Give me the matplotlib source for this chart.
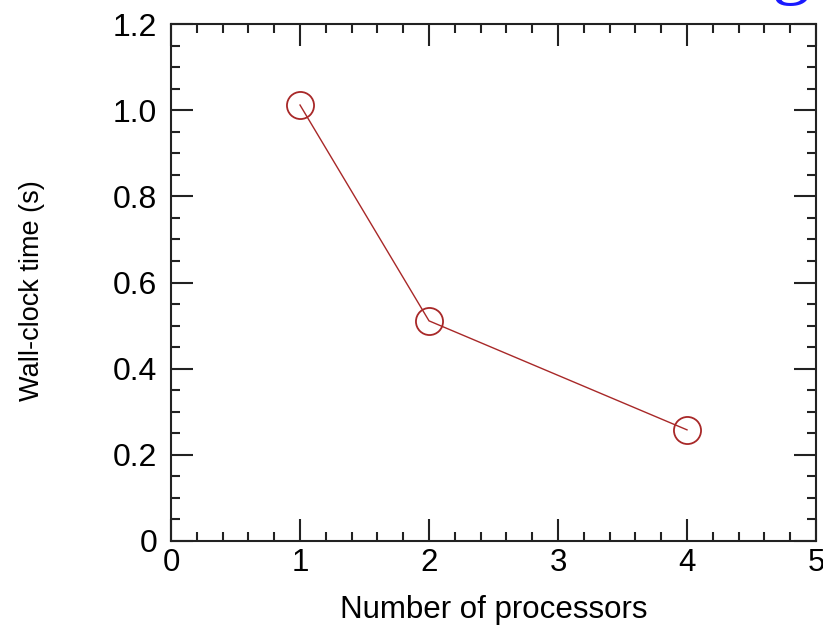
import matplotlib.pyplot as plt
from matplotlib.ticker import MultipleLocator

processors = [1, 2, 4]
wall_time = [1.012, 0.511, 0.258]
y_ticks = [0, 0.2, 0.4, 0.6, 0.8, 1.0, 1.2]
y_tick_labels = ['0', '0.2', '0.4', '0.6', '0.8', '1.0', '1.2']

plt.rcParams['font.family'] = ['Liberation Sans', 'DejaVu Sans']

fig = plt.figure(figsize=(8.23, 6.34), dpi=100)
ax = fig.add_axes([0.2078, 0.1467, 0.7837, 0.8154])

ax.plot(processors, wall_time, '-', color='#a82828', lw=1.0,
        marker='o', ms=19.5, mfc='none', mec='#a82828', mew=1.3)

ax.set_xlim(0, 5)
ax.set_ylim(0, 1.2)
ax.xaxis.set_major_locator(MultipleLocator(1))
ax.xaxis.set_minor_locator(MultipleLocator(0.2))
ax.yaxis.set_minor_locator(MultipleLocator(0.05))
ax.set_yticks(y_ticks)
ax.set_yticklabels(y_tick_labels)

ax.tick_params(which='both', direction='in', top=True, right=True,
               color='#222222', width=1.5)
ax.tick_params(which='major', length=16, labelsize=23)
ax.tick_params(which='minor', length=6.5)
ax.tick_params(axis='x', which='major', pad=5, labelsize=22.5)
ax.tick_params(axis='y', which='major', pad=10)
for s in ax.spines.values():
    s.set_linewidth(1.5)
    s.set_color('#222222')

ax.set_xlabel('Number of processors', fontsize=22.5, labelpad=12)
ax.set_ylabel('Wall-clock time (s)', fontsize=19.5)
ax.yaxis.set_label_coords(-0.196, 0.485)

# bottom of a blue heading glyph cut off at the top edge
fig.text(0.961, 1.017, 'g', color='#1a1aff', fontsize=56,
         family='Liberation Serif', ha='center', va='baseline')

fig.savefig('out.png', dpi=100)
